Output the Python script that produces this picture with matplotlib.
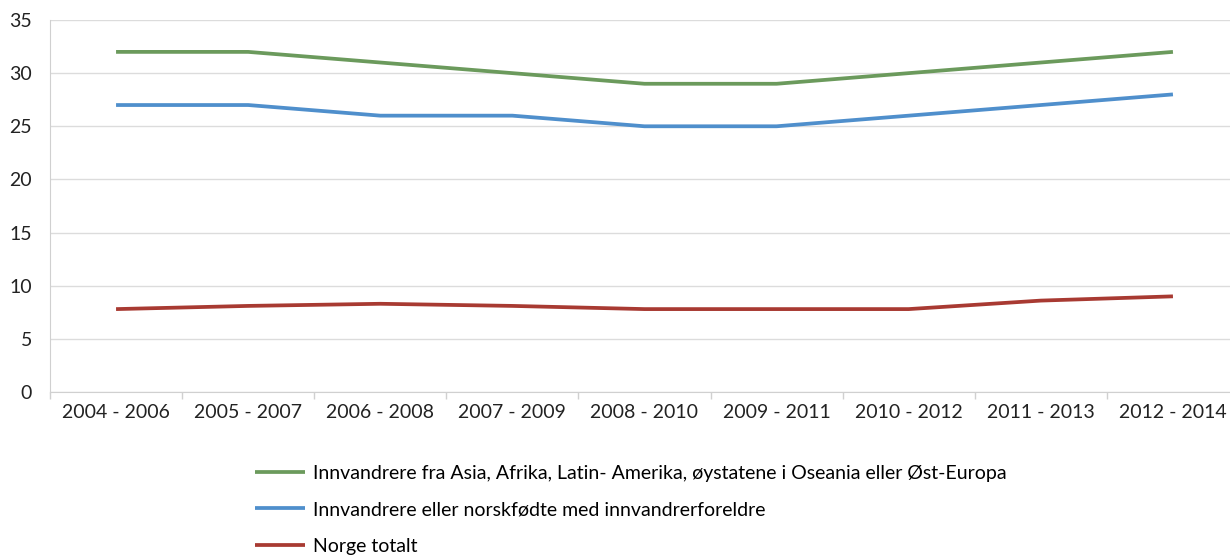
import matplotlib
matplotlib.use("Agg")
import matplotlib.pyplot as plt
import numpy as np

categories = ["2004 - 2006", "2005 - 2007", "2006 - 2008", "2007 - 2009", "2008 - 2010",
              "2009 - 2011", "2010 - 2012", "2011 - 2013", "2012 - 2014"]
green_vals = [32, 32, 31, 30, 29, 29, 30, 31, 32]
blue_vals = [27, 27, 26, 26, 25, 25, 26, 27, 28]
red_vals = [7.8, 8.1, 8.3, 8.1, 7.8, 7.8, 7.8, 8.6, 9.0]
labels = ["Innvandrere fra Asia, Afrika, Latin- Amerika, øystatene i Oseania eller Øst-Europa",
          "Innvandrere eller norskfødte med innvandrerforeldre",
          "Norge totalt"]
yticks = [0, 5, 10, 15, 20, 25, 30, 35]

plt.rcParams['font.family'] = ['Lato', 'DejaVu Sans']

fig = plt.figure(figsize=(12.3, 5.57), dpi=100)
ax = fig.add_axes([50/1230, (557-392)/557, (1239-50)/1230, 372/557])

x = np.arange(len(categories)) + 0.5
colors = ["#6b9a5c", "#4f8fcc", "#a83a32"]
lines = []
for vals, c, lab in zip([green_vals, blue_vals, red_vals], colors, labels):
    l, = ax.plot(x, vals, color=c, lw=2.7, solid_capstyle='butt', label=lab)
    lines.append(l)

ax.set_xlim(0, len(categories))
ax.set_ylim(0, 35)
ax.set_yticks(yticks)
ax.set_xticks(x)
ax.set_xticklabels(categories)
ax.set_xticks(np.arange(len(categories) + 1), minor=True)
ax.tick_params(axis='x', which='major', length=0, pad=9, labelsize=14, colors='#222222')
ax.tick_params(axis='x', which='minor', length=5, color='#d0d0d0', width=1)
ax.tick_params(axis='y', length=0, pad=13, labelsize=14, colors='#222222')
ax.grid(axis='y', color='#dcdcdc', lw=1)
ax.set_axisbelow(True)
for s in ['top', 'right']:
    ax.spines[s].set_visible(False)
ax.spines['left'].set_color('#d0d0d0')
ax.spines['bottom'].set_color('#d0d0d0')

fig.legend(handles=lines, loc='upper left', bbox_to_anchor=(247/1230, 1 - 457/557),
           frameon=False, fontsize=14, handlelength=2.6, handletextpad=0.4,
           labelspacing=1.0, borderaxespad=0)

fig.savefig("out.png", dpi=100)
